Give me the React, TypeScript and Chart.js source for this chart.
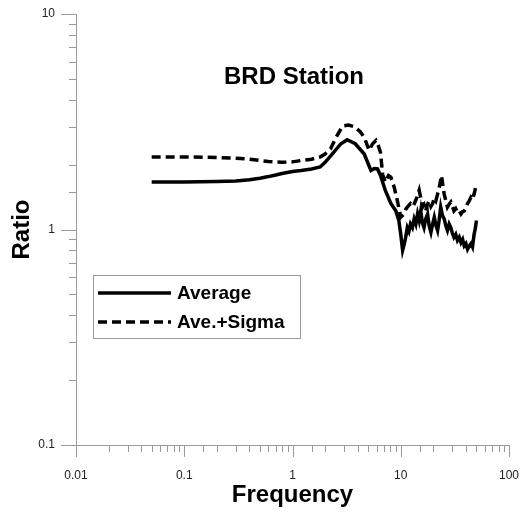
import React, { useEffect, useRef } from "react";
import { Chart, registerables } from "chart.js";

Chart.register(...registerables);

const FONT = "'Liberation Sans', Arial, Helvetica, sans-serif";
const CHART_TITLE = "BRD Station";
const X_TITLE = "Frequency";
const Y_TITLE = "Ratio";
const SERIES_LABELS = ["Average", "Ave.+Sigma"];
const X_MIN = 0.01;
const X_MAX = 100;
const Y_MIN = 0.1;
const Y_MAX = 10;

const avgFreq = [
  0.05, 0.1, 0.2, 0.3, 0.4, 0.5, 0.6, 0.7, 0.8, 1.0, 1.2, 1.5, 1.8, 2.0, 2.4, 2.8, 3.2, 3.8, 4.6, 5.3,
  5.7, 6.1, 6.5, 7.2, 8.1, 9.0, 9.6, 10.0, 10.4, 10.8, 11.1, 11.5, 11.9, 12.3, 12.8, 13.3, 13.8, 14.3,
  14.8, 15.3, 15.8, 16.4, 17.0, 17.7, 18.3, 19.0, 19.7, 20.4, 21.1, 21.9, 22.6, 23.4, 24.3, 25.2, 26.1,
  27.0, 28.0, 29.0, 30.0, 31.0, 32.2, 33.4, 34.7, 36.0, 37.3, 38.6, 40.0, 41.4, 43.0, 44.5, 46.0, 47.6,
  49.0, 50.0,
];
const avgValues = [
  1.66, 1.66, 1.67, 1.68, 1.70, 1.73, 1.76, 1.79, 1.82, 1.86, 1.88, 1.91, 1.95, 2.05, 2.28, 2.50, 2.61,
  2.50, 2.24, 1.88, 1.92, 1.91, 1.78, 1.52, 1.32, 1.22, 1.10, 0.95, 0.80, 0.86, 0.92, 1.02, 0.98, 1.06,
  1.02, 1.12, 1.06, 1.18, 1.10, 1.22, 1.08, 1.02, 1.12, 1.18, 1.04, 0.97, 1.06, 1.14, 1.05, 0.99, 1.10,
  1.27, 1.16, 1.12, 1.04, 0.99, 1.06, 1.02, 0.96, 0.92, 0.95, 0.89, 0.92, 0.87, 0.90, 0.84, 0.86, 0.81,
  0.84, 0.86, 0.83, 0.95, 1.02, 1.10,
];

const sigFreq = [
  0.05, 0.1, 0.2, 0.3, 0.4, 0.5, 0.6, 0.8, 1.0, 1.2, 1.5, 1.8, 2.0, 2.25, 2.5, 2.9, 3.3, 3.7, 4.2, 4.6,
  5.1, 5.5, 5.9, 6.2, 6.5, 6.8, 7.2, 7.7, 8.1, 8.7, 9.3, 10.0, 10.7, 11.1, 11.5, 12.3, 13.0, 13.7, 14.2,
  14.8, 15.4, 15.9, 16.4, 17.0, 17.6, 18.3, 19.0, 19.7, 20.4, 21.1, 21.9, 22.7, 23.8, 24.5, 25.2, 26.1,
  27.0, 28.0, 29.0, 30.0, 31.0, 32.2, 33.4, 34.7, 36.0, 37.3, 38.6, 40.0, 41.4, 43.0, 44.5, 46.0, 47.6,
  49.0, 50.0,
];
const sigValues = [
  2.17, 2.17, 2.16, 2.14, 2.12, 2.09, 2.07, 2.05, 2.06, 2.09, 2.12, 2.17, 2.24, 2.37, 2.65, 3.02, 3.05,
  3.0, 2.85, 2.68, 2.33, 2.5, 2.59, 2.45, 2.28, 1.8, 1.66, 1.78, 1.75, 1.57, 1.36, 1.14, 1.18, 1.24, 1.27,
  1.32, 1.28, 1.36, 1.42, 1.52, 1.38, 1.27, 1.30, 1.22, 1.30, 1.36, 1.28, 1.32, 1.40, 1.36, 1.46, 1.57,
  1.78, 1.60, 1.46, 1.36, 1.27, 1.31, 1.34, 1.28, 1.22, 1.25, 1.20, 1.22, 1.18, 1.21, 1.22, 1.26, 1.32,
  1.36, 1.41, 1.38, 1.46, 1.55, 1.63,
];

const AXIS_COLOR = "#9a9a9a";
const TICK_LABEL_COLOR = "#222";

const isDecade = (v: number) => {
  const l = Math.log10(v);
  return Math.abs(l - Math.round(l)) < 1e-6;
};

const fmt = (v: number) => {
  const l = Math.round(Math.log10(v));
  return l >= 0 ? String(Math.round(v)) : v.toFixed(-l);
};

const ticksPlugin = {
  id: "logTicks",
  afterDraw(chart: any) {
    const { ctx } = chart;
    const xs = chart.scales.x;
    const ys = chart.scales.y;
    ctx.save();
    ctx.strokeStyle = AXIS_COLOR;
    ctx.lineWidth = 1;
    xs.ticks.forEach((t: any) => {
      const px = Math.round(xs.getPixelForValue(t.value)) + 0.5;
      const len = isDecade(t.value) ? 12 : 7;
      ctx.beginPath();
      ctx.moveTo(px, xs.top);
      ctx.lineTo(px, xs.top + len);
      ctx.stroke();
    });
    ys.ticks.forEach((t: any) => {
      const py = Math.round(ys.getPixelForValue(t.value)) + 0.5;
      const len = isDecade(t.value) ? 15 : 7;
      ctx.beginPath();
      ctx.moveTo(ys.right, py);
      ctx.lineTo(ys.right - len, py);
      ctx.stroke();
    });
    ctx.restore();
  },
};

const overlayPlugin = {
  id: "overlay",
  afterDraw(chart: any) {
    const { ctx, chartArea } = chart;
    ctx.save();
    ctx.fillStyle = "#000";
    ctx.font = `bold 24px ${FONT}`;
    ctx.textAlign = "center";
    ctx.textBaseline = "middle";
    ctx.fillText(CHART_TITLE, chartArea.left + 218, chartArea.top + 63);

    const bx = chartArea.left + 17;
    const by = chartArea.top + 261;
    const bw = 207;
    const bh = 63;
    ctx.strokeStyle = AXIS_COLOR;
    ctx.lineWidth = 1;
    ctx.strokeRect(bx + 0.5, by + 0.5, bw, bh);
    const rows = [18, 47];
    chart.data.datasets.forEach((ds: any, i: number) => {
      const ry = by + rows[i];
      ctx.save();
      ctx.strokeStyle = ds.borderColor;
      ctx.lineWidth = ds.borderWidth;
      ctx.setLineDash(ds.borderDash || []);
      ctx.beginPath();
      ctx.moveTo(bx + 5, ry);
      ctx.lineTo(bx + 78, ry);
      ctx.stroke();
      ctx.restore();
      ctx.fillStyle = "#000";
      ctx.font = `bold 19px ${FONT}`;
      ctx.textAlign = "left";
      ctx.textBaseline = "middle";
      ctx.fillText(ds.label, bx + 84, ry + 1);
    });
    ctx.restore();
  },
};

export default function App() {
  const ref = useRef<HTMLCanvasElement>(null);
  useEffect(() => {
    if (!ref.current) return;
    const chart = new Chart(ref.current, {
      type: "line",
      data: {
        datasets: [
          {
            label: SERIES_LABELS[0],
            data: avgFreq.map((f, i) => ({ x: f, y: avgValues[i] })),
            borderColor: "#000",
            borderWidth: 3.5,
            pointRadius: 0,
            tension: 0,
            fill: false,
          },
          {
            label: SERIES_LABELS[1],
            data: sigFreq.map((f, i) => ({ x: f, y: sigValues[i] })),
            borderColor: "#000",
            borderWidth: 3.5,
            borderDash: [9, 5],
            pointRadius: 0,
            tension: 0,
            fill: false,
          },
        ],
      },
      options: {
        responsive: false,
        animation: false,
        layout: { padding: { left: 0, right: 11, top: 14, bottom: 0 } },
        plugins: { legend: { display: false }, tooltip: { enabled: false }, title: { display: false } },
        scales: {
          x: {
            type: "logarithmic",
            min: X_MIN,
            max: X_MAX,
            afterFit: (s: any) => {
              s.height = 67;
              s.paddingLeft = 0;
              s.paddingRight = 0;
            },
            grid: { display: true, drawOnChartArea: false, drawTicks: false },
            border: { display: true, color: AXIS_COLOR, width: 1 },
            ticks: {
              autoSkip: false,
              maxRotation: 0,
              padding: 23,
              color: TICK_LABEL_COLOR,
              font: { family: FONT, size: 12 },
              callback: (v: any) => (isDecade(Number(v)) ? fmt(Number(v)) : ""),
            },
            title: {
              display: true,
              text: X_TITLE,
              color: "#000",
              font: { family: FONT, size: 24, weight: "bold" },
              padding: { top: 0, bottom: 2 },
            },
          },
          y: {
            type: "logarithmic",
            min: Y_MIN,
            max: Y_MAX,
            afterFit: (s: any) => {
              s.width = 76;
              s.paddingTop = 0;
              s.paddingBottom = 0;
            },
            grid: { display: true, drawOnChartArea: false, drawTicks: false },
            border: { display: true, color: AXIS_COLOR, width: 1 },
            ticks: {
              autoSkip: false,
              padding: 21,
              color: TICK_LABEL_COLOR,
              font: { family: FONT, size: 12 },
              callback: (v: any) => (isDecade(Number(v)) ? fmt(Number(v)) : ""),
            },
            title: {
              display: true,
              text: Y_TITLE,
              color: "#000",
              font: { family: FONT, size: 24, weight: "bold" },
              padding: { top: 8, bottom: 0 },
            },
          },
        },
      },
      plugins: [ticksPlugin, overlayPlugin],
    });
    return () => chart.destroy();
  }, []);
  return (
    <div style={{ position: "fixed", left: 0, top: 0, width: 520, height: 512, background: "#fff" }}>
      <canvas ref={ref} width={520} height={512} />
    </div>
  );
}
